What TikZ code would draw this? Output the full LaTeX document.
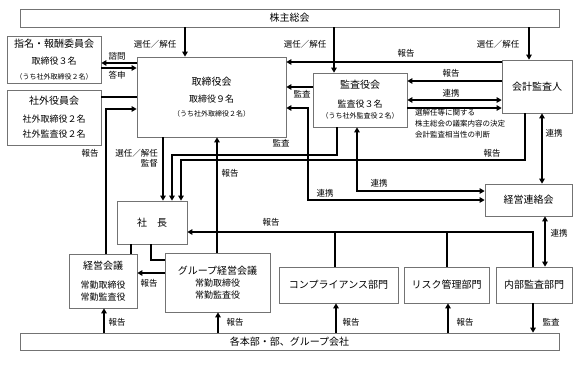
\documentclass[tikz,border=0pt]{standalone}
\usepackage{fontspec}
\setmainfont{Noto Sans CJK JP}
\usetikzlibrary{arrows.meta}
\tikzset{
  box/.style={draw=black!55, line width=0.7pt, fill=white, inner sep=0pt, align=center, font=\fontsize{10}{12}\selectfont},
  conn/.style={line width=1.5pt},
  arr/.style={conn, -{Triangle[length=5pt,width=5.5pt]}},
  darr/.style={conn, {Triangle[length=5pt,width=5.5pt]}-{Triangle[length=5pt,width=5.5pt]}},
  lbl/.style={font=\fontsize{8.5}{9.5}\selectfont, inner sep=0pt},
}
\newcommand{\boxsub}[1]{{\fontsize{9}{11}\selectfont #1}}
\newcommand{\boxnote}[1]{{\fontsize{7}{9}\selectfont #1}}
\begin{document}
\begin{tikzpicture}[x=1pt,y=-1pt,line join=miter]
  \fill[white] (0,0) rectangle (585,365);
  \useasboundingbox (0,0) rectangle (585,365);
  % boxes
  \node[box, minimum width=539pt, minimum height=18pt] (soukai) at (289.5,18) {株主総会};
  \node[box, minimum width=94pt, minimum height=47pt] (iinkai) at (54,59.5) {指名・報酬委員会\\[5pt]\boxsub{取締役３名}\\[3pt]\boxnote{（うち社外取締役２名）}};
  \node[box, minimum width=94pt, minimum height=55pt] (shagai) at (54,117.5) {社外役員会\\[6pt]\boxsub{社外取締役２名}\\[3pt]\boxsub{社外監査役２名}};
  \node[box, minimum width=149pt, minimum height=80pt] (torishimari) at (211.5,97) {取締役会\\[5pt]\boxsub{取締役９名}\\[2pt]\boxnote{（うち社外取締役２名）}};
  \node[box, minimum width=94pt, minimum height=54pt] (kansa) at (360,100) {監査役会\\[7pt]\boxsub{監査役３名}\\[-1pt]\boxnote{（うち社外監査役２名）}};
  \node[box, minimum width=70pt, minimum height=53pt] (kaikei) at (537,86.5) {会計監査人};
  \node[box, minimum width=70pt, minimum height=43pt] (shacho) at (152,222.5) {社　長};
  \node[box, minimum width=87pt, minimum height=32pt] (renraku) at (528.5,200) {経営連絡会};
  \node[box, minimum width=68pt, minimum height=54pt] (keiei) at (103,281) {経営会議\\[7pt]\boxsub{常勤取締役}\\[0pt]\boxsub{常勤監査役}};
  \node[box, minimum width=105pt, minimum height=59pt] (group) at (217.5,282.5) {グループ経営会議\\[0pt]\boxsub{常勤取締役}\\[0pt]\boxsub{常勤監査役}};
  \node[box, minimum width=119pt, minimum height=36pt] (compliance) at (338.5,285) {コンプライアンス部門};
  \node[box, minimum width=85pt, minimum height=36pt] (risk) at (446.5,285) {リスク管理部門};
  \node[box, minimum width=76pt, minimum height=36pt] (naibu) at (534,285) {内部監査部門};
  \node[box, minimum width=539pt, minimum height=17pt] (kakubu) at (289.5,341.5) {各本部・部、グループ会社};

  % 株主総会から
  \draw[arr] (185,0 |- soukai.south) -- (185,0 |- torishimari.north);
  \draw[arr] (334,0 |- soukai.south) -- (334,0 |- kansa.north);
  \draw[arr] (529,0 |- soukai.south) -- (529,0 |- kaikei.north);
  \node[lbl] (l-sennin1) at (155,44) {選任／解任};
  \node[lbl] (l-sennin2) at (305,44) {選任／解任};
  \node[lbl] (l-sennin3) at (498,44) {選任／解任};

  % 取締役会のまわり
  \draw[arr] (torishimari.west |- 0,63) -- (iinkai.east |- 0,63);
  \draw[arr] (iinkai.east |- 0,68) -- (torishimari.west |- 0,68);
  \node[lbl] (l-shimon) at (117,56) {諮問};
  \node[lbl] (l-toshin) at (117,75) {答申};
  \draw[conn] (shagai.east |- 0,97) -- (torishimari.west |- 0,97);
  \draw[arr] (106,0 |- keiei.north) |- (torishimari.west |- 0,109);
  \node[lbl] (l-hokoku1) at (90,153) {報告};
  \draw[arr] (kaikei.west |- 0,62) -- (torishimari.east |- 0,62);
  \node[lbl] (l-hokoku2) at (406,53) {報告};
  \draw[arr] (kansa.west |- 0,87) -- (torishimari.east |- 0,87);
  \node[lbl] (l-kansa1) at (302,94) {監査};

  % 監査役会と会計監査人
  \draw[arr] (kaikei.west |- 0,81) -- (kansa.east |- 0,81);
  \node[lbl] (l-hokoku3) at (451,73) {報告};
  \draw[darr] (kansa.east |- 0,100) -- (kaikei.west |- 0,100);
  \node[lbl] (l-renkei1) at (451,93) {連携};
  \draw[arr] (kansa.east |- 0,108) -- (kaikei.west |- 0,108);
  \node[lbl, align=left, anchor=north west, font=\fontsize{7.5}{11}\selectfont] (l-note) at (415,109) {選解任等に関する\\株主総会の議案内容の決定\\会計監査相当性の判断};

  % 社長へ
  \draw[arr] (163,0 |- torishimari.south) -- (163,0 |- shacho.north);
  \node[lbl, align=right, anchor=east] (l-kantoku) at (158,158) {選任／解任\\監督};
  \draw[arr] (337,0 |- kansa.south) -- (337,155) -| (172,0 |- shacho.north);
  \node[lbl] (l-kansa2) at (281,143) {監査};
  \draw[arr] (525,0 |- kaikei.south) -- (525,160) -| (181,0 |- shacho.north);
  \node[lbl] (l-hokoku4) at (492,153) {報告};

  % 経営連絡会
  \draw[darr] (torishimari.east |- 0,108) -| (308,200) -- (renraku.west |- 0,200);
  \node[lbl] (l-renkei2) at (325,193) {連携};
  \draw[darr] (357,0 |- kansa.south) |- (renraku.west |- 0,191);
  \node[lbl] (l-renkei3) at (379,183) {連携};
  \draw[darr] (542,0 |- kaikei.south) -- (542,0 |- renraku.north);
  \node[lbl] (l-renkei4) at (554,133) {連携};
  \draw[darr] (545,0 |- renraku.south) -- (545,0 |- naibu.north);
  \node[lbl] (l-renkei5) at (559,233) {連携};

  % 各部門から社長へ
  \draw[arr] (533,0 |- naibu.north) |- (shacho.east |- 0,232);
  \draw[conn] (447,0 |- risk.north) -- (447,232);
  \draw[conn] (335,0 |- compliance.north) -- (335,232);
  \node[lbl] (l-hokoku5) at (271,222) {報告};
  \draw[arr] (217,0 |- group.north) -- (217,0 |- torishimari.south);
  \node[lbl] (l-hokoku6) at (230,173) {報告};

  % 社長と会議
  \draw[conn] (131,0 |- shacho.south) -- (131,0 |- keiei.north);
  \draw[conn] (151,0 |- shacho.south) |- (group.west |- 0,260);
  \draw[arr] (group.west |- 0,273) -- (keiei.east |- 0,273);
  \node[lbl] (l-hokoku7) at (149,283) {報告};

  % 各本部・部、グループ会社
  \draw[arr] (104,0 |- kakubu.north) -- (104,0 |- keiei.south);
  \draw[arr] (218,0 |- kakubu.north) -- (218,0 |- group.south);
  \draw[arr] (336,0 |- kakubu.north) -- (336,0 |- compliance.south);
  \draw[arr] (448,0 |- kakubu.north) -- (448,0 |- risk.south);
  \draw[arr] (533,0 |- naibu.south) -- (533,0 |- kakubu.north);
  \node[lbl] (l-hokoku8) at (117,322) {報告};
  \node[lbl] (l-hokoku9) at (235,322) {報告};
  \node[lbl] (l-hokoku10) at (351,322) {報告};
  \node[lbl] (l-hokoku11) at (465,322) {報告};
  \node[lbl] (l-kansa3) at (551,322) {監査};
\end{tikzpicture}
\end{document}
